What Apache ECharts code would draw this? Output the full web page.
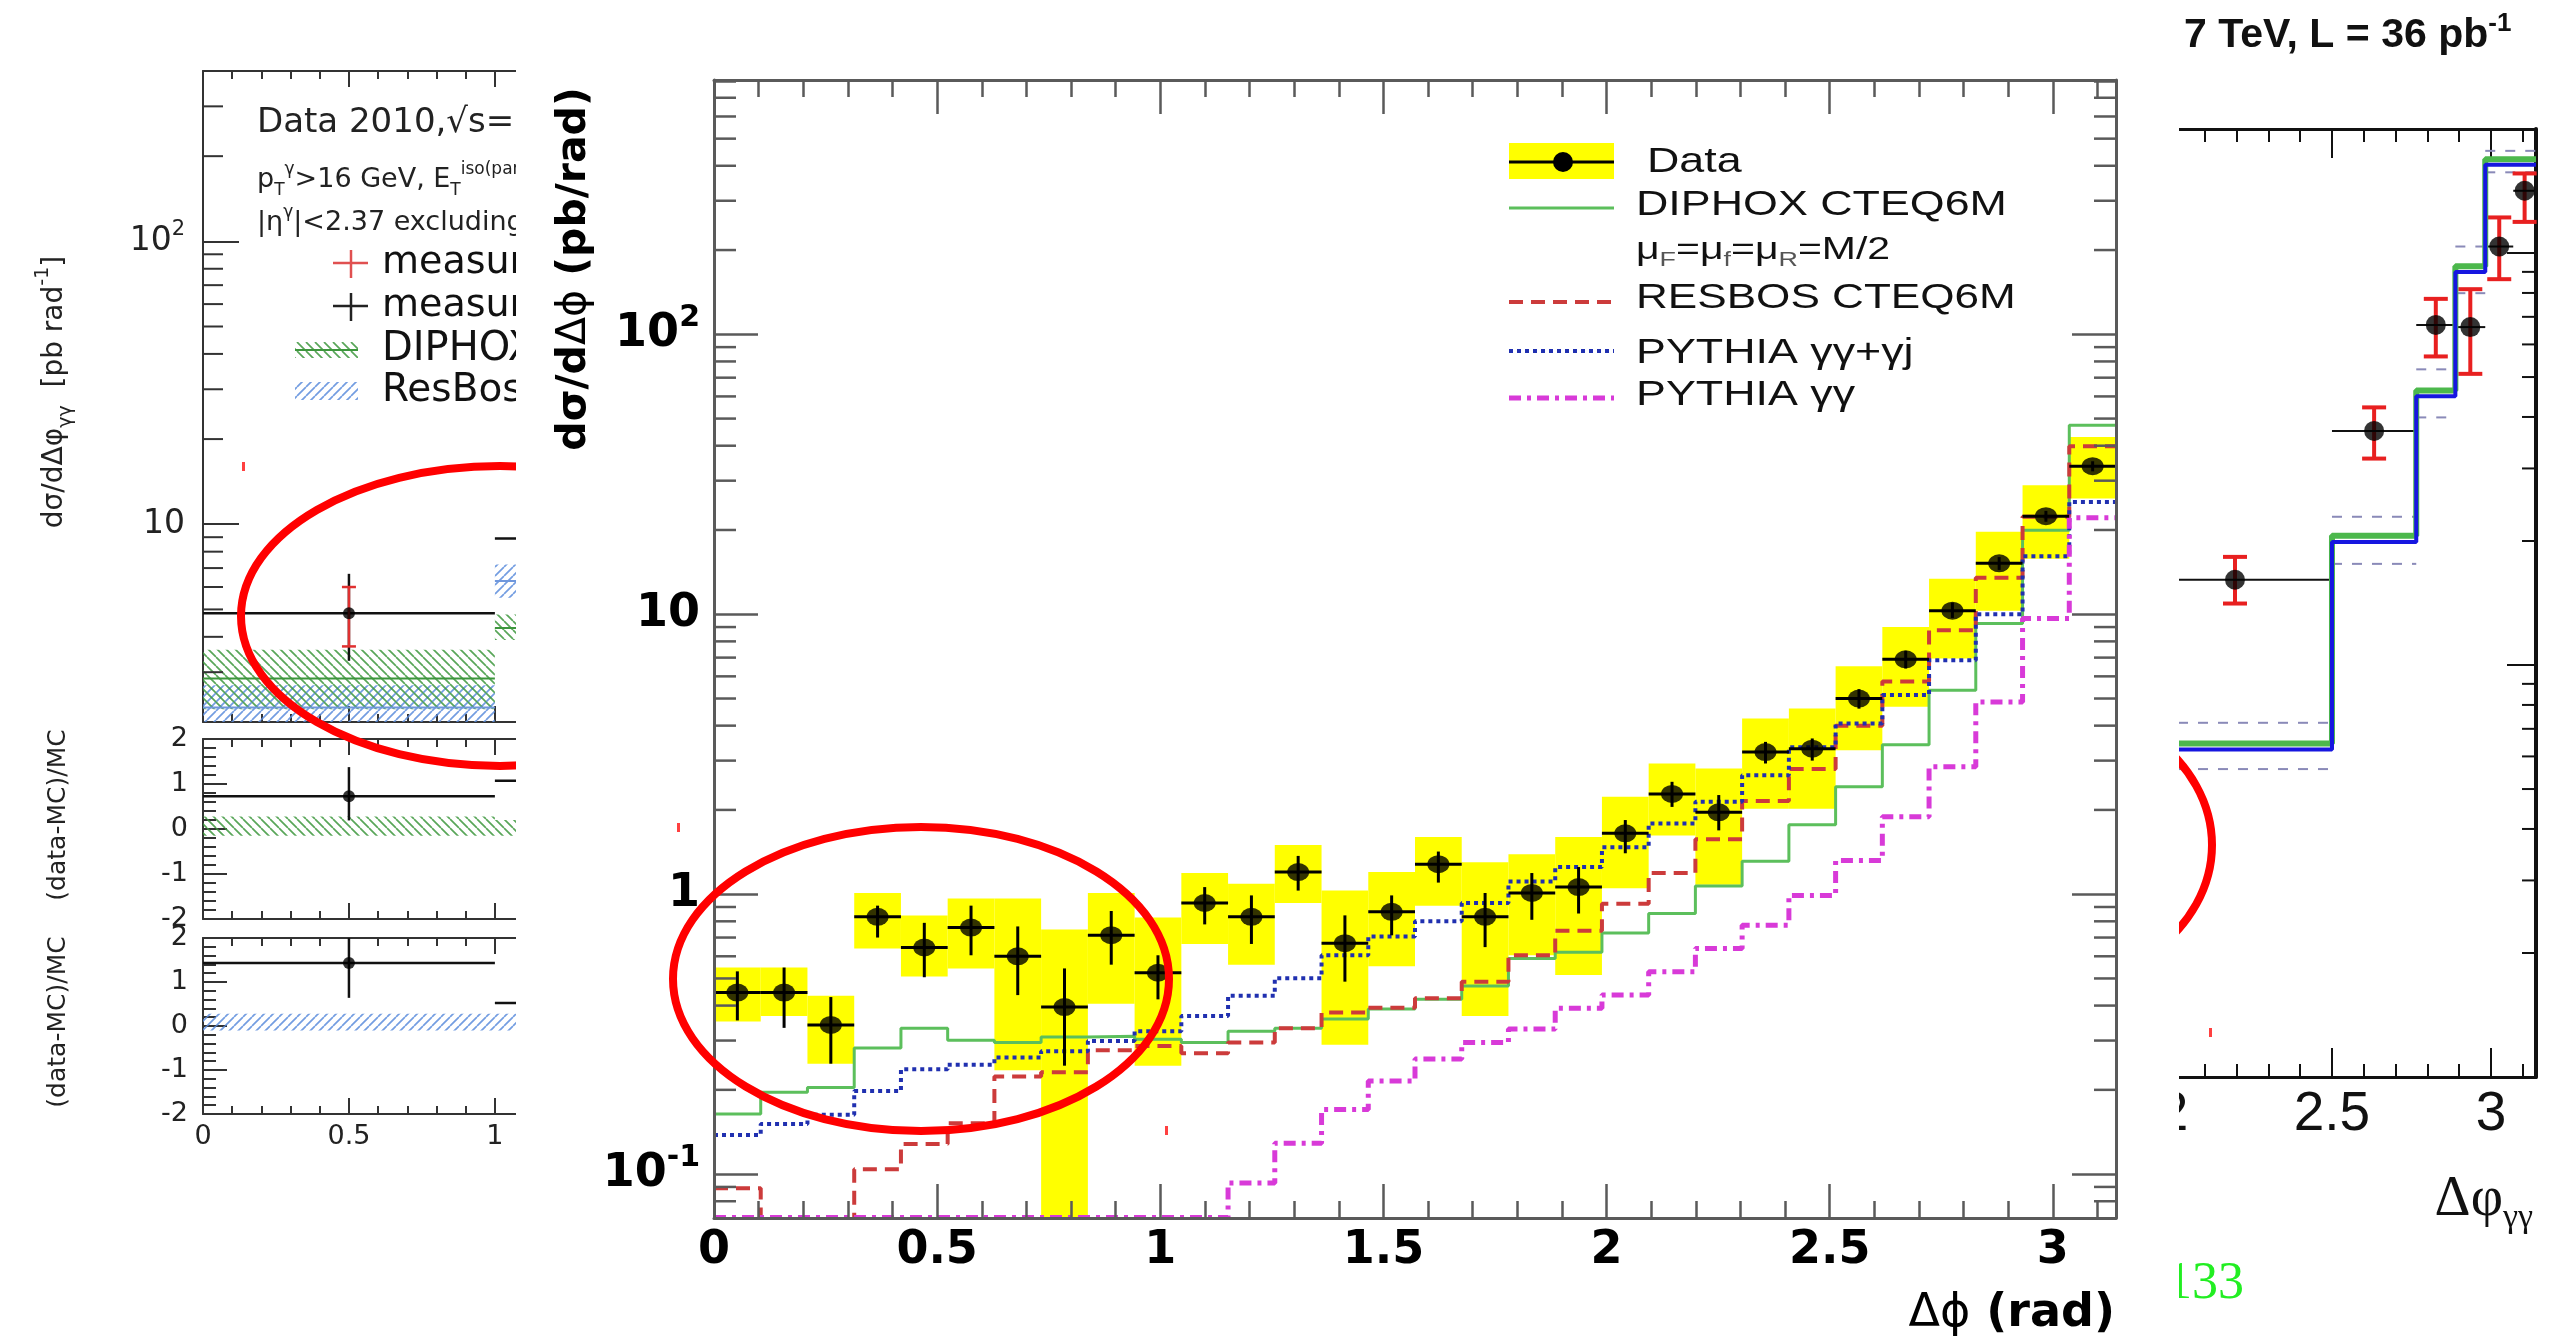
<!DOCTYPE html>
<html>
<head>
<meta charset="utf-8">
<script src="https://cdn.jsdelivr.net/npm/echarts@6.0.0/dist/echarts.min.js"></script>
<style>
html,body{margin:0;padding:0;background:#ffffff;}
#chart{width:2556px;height:1343px;}
</style>
</head>
<body>
<div id="chart"></div>
<script>
// ================= MAIN PANEL (30 bins of width pi/30) =================
const binEdges = [0, 0.1047, 0.2094, 0.3142, 0.4189, 0.5236, 0.6283, 0.7330, 0.8378, 0.9425, 1.0472, 1.1519, 1.2566, 1.3614, 1.4661, 1.5708, 1.6755, 1.7802, 1.8850, 1.9897, 2.0944, 2.1991, 2.3038, 2.4086, 2.5133, 2.6180, 2.7227, 2.8274, 2.9322, 3.0369, 3.1416];
const dataVal = [0.445, 0.445, 0.341, 0.83, 0.645, 0.76, 0.60, 0.395, 0.714, 0.524, 0.93, 0.83, 1.20, 0.668, 0.865, 1.28, 0.83, 1.01, 1.06, 1.65, 2.28, 1.96, 3.22, 3.31, 5.0, 6.9, 10.3, 15.2, 22.4, 33.8];
const statLo = [0.354, 0.333, 0.248, 0.70, 0.505, 0.605, 0.436, 0.244, 0.56, 0.421, 0.78, 0.664, 1.03, 0.487, 0.713, 1.10, 0.647, 0.81, 0.853, 1.40, 2.05, 1.69, 2.93, 3.0, 4.6, 6.4, 9.7, 14.4, 21.4, 32.4];
const statHi = [0.53, 0.547, 0.429, 0.91, 0.79, 0.91, 0.767, 0.543, 0.871, 0.605, 1.06, 0.99, 1.37, 0.84, 0.99, 1.42, 1.01, 1.19, 1.25, 1.84, 2.52, 2.26, 3.5, 3.6, 5.4, 7.4, 11.0, 16.0, 23.4, 35.2];
const sysLo = [0.351, 0.367, 0.248, 0.64, 0.508, 0.543, 0.235, 0.05, 0.406, 0.244, 0.664, 0.56, 0.93, 0.29, 0.553, 0.91, 0.367, 0.605, 0.514, 1.05, 1.62, 1.08, 2.02, 2.02, 3.27, 4.67, 6.95, 10.3, 15.8, 25.9];
const sysHi = [0.547, 0.547, 0.434, 1.01, 0.84, 0.965, 0.965, 0.748, 1.01, 0.825, 1.19, 1.09, 1.50, 1.03, 1.20, 1.60, 1.30, 1.39, 1.60, 2.23, 2.93, 2.81, 4.24, 4.61, 6.52, 9.01, 13.4, 19.7, 28.9, 43.0];
const diphox = [0.164, 0.196, 0.204, 0.282, 0.332, 0.301, 0.295, 0.309, 0.311, 0.303, 0.295, 0.324, 0.332, 0.358, 0.389, 0.421, 0.47, 0.589, 0.62, 0.727, 0.853, 1.07, 1.31, 1.77, 2.42, 3.42, 5.35, 9.26, 19.95, 47.3];
const resbos = [0.089, 0.05, 0.05, 0.104, 0.128, 0.152, 0.223, 0.231, 0.277, 0.287, 0.27, 0.295, 0.332, 0.378, 0.393, 0.425, 0.487, 0.605, 0.74, 0.925, 1.19, 1.57, 2.15, 2.8, 4.0, 5.75, 8.77, 13.5, 22.3, 39.8];
const pythiaGGGJ = [0.138, 0.151, 0.163, 0.198, 0.237, 0.246, 0.261, 0.275, 0.299, 0.324, 0.367, 0.434, 0.501, 0.605, 0.706, 0.80, 0.93, 1.11, 1.25, 1.47, 1.79, 2.14, 2.66, 3.35, 4.07, 5.15, 6.85, 10.0, 16.1, 25.2];
const pythiaGG = [0.07, 0.07, 0.07, 0.07, 0.07, 0.07, 0.07, 0.07, 0.07, 0.07, 0.07, 0.093, 0.129, 0.170, 0.215, 0.258, 0.295, 0.33, 0.391, 0.436, 0.528, 0.64, 0.775, 0.99, 1.32, 1.89, 2.85, 4.86, 9.66, 22.1];
const mainYRange = [0.0697, 810];
const mainMinorY = [0.08, 0.09, 0.2, 0.3, 0.4, 0.5, 0.6, 0.7, 0.8, 0.9, 2, 3, 4, 5, 6, 7, 8, 9, 20, 30, 40, 50, 60, 70, 80, 90, 200, 300, 400, 500, 600, 700, 800];
const mainLegend = ['Data', 'DIPHOX CTEQ6M', 'RESBOS CTEQ6M', 'PYTHIA γγ+γj', 'PYTHIA γγ'];

// ================= LEFT PANEL (ATLAS, partially visible) =================
const lEdges = [0, 1, 2];
const lData = [4.85, 8.9];
const lTotLo = [3.29, 7.4];
const lTotHi = [6.68, 10.6];
const lStatLo = [3.7, 7.9];
const lStatHi = [6.0, 9.9];
const lDiphox = [2.85, 4.3];
const lDiphoxLo = [2.22, 3.9];
const lDiphoxHi = [3.6, 4.8];
const lResbos = [2.25, 6.3];
const lResbosLo = [1.9, 5.5];
const lResbosHi = [2.7, 7.2];
const lYRange = [2, 400];
const lMinorY = [3, 4, 5, 6, 7, 8, 9, 20, 30, 40, 50, 60, 70, 80, 90, 200, 300];
const r1Data = [0.73, 1.07];
const r1Lo = [0.19, 0.7];
const r1Hi = [1.375, 1.45];
const r1BandLo = [-0.15, -0.15];
const r1BandHi = [0.28, 0.2];
const r2Data = [1.43, 0.52];
const r2Lo = [0.64, 0.2];
const r2Hi = [2.05, 0.85];
const r2BandLo = [-0.1, -0.1];
const r2BandHi = [0.28, 0.28];

// ================= RIGHT PANEL (ATLAS, partially visible) =================
const rpEdges = [1.89, 2.5, 2.765, 2.888, 2.982, 3.07, 3.1416];
const rpData = [16.1, 37.0, 66.9, 66.1, 103.7, 141.6];
const rpErrLo = [14.1, 31.7, 56.1, 50.9, 86.4, 119];
const rpErrHi = [18.3, 42.2, 77.4, 81.7, 122, 156];
const rpThEdges = [1.89, 2.5, 2.765, 2.888, 2.982, 3.1416];
const rpBlue = [6.24, 19.9, 44.9, 89.9, 163.7];
const rpGreen = [6.45, 20.6, 46.4, 92.9, 169];
const rpUp = [7.24, 22.9, 52.2, 103.7, 177];
const rpDn = [5.59, 17.6, 39.9, 79.9, 157];
const rpYRange = [1, 200];
const rpMinorY = [2, 3, 4, 5, 6, 7, 8, 9, 20, 30, 40, 50, 60, 70, 80, 90];

// ================= helpers =================
const PI = Math.PI;
function stepData(edges, vals) {
  const d = vals.map((v, i) => [edges[i], v]);
  d.push([edges[edges.length - 1], vals[vals.length - 1]]);
  return d;
}
function mids(edges) { return edges.slice(0, -1).map((e, i) => (e + edges[i + 1]) / 2); }
function hatch(color, dir) {
  const s = 9;
  const c = document.createElement('canvas');
  c.width = s; c.height = s;
  const g = c.getContext('2d');
  g.strokeStyle = color; g.lineWidth = 1.7;
  g.beginPath();
  for (let k = -1; k <= 1; k++) {
    if (dir === 'back') { g.moveTo(k * s, 0); g.lineTo(k * s + s, s); }
    else { g.moveTo(k * s, s); g.lineTo(k * s + s, 0); }
  }
  g.stroke();
  return { image: c, repeat: 'repeat' };
}
const greenHatch = hatch('rgba(60,150,60,0.85)', 'back');
const blueHatch = hatch('rgba(90,140,220,0.85)', 'fwd');

function xAx(o) {
  return {
    type: 'value', gridIndex: o.grid, position: o.pos, min: o.min, max: o.max, interval: o.interval,
    z: o.z || 0, silent: true,
    axisLine: { show: !!o.line, onZero: false, lineStyle: { color: o.color, width: o.lw || 2 } },
    axisTick: { show: true, inside: true, length: o.tick, lineStyle: { color: o.color, width: o.tw || 2 } },
    minorTick: o.minor ? { show: true, splitNumber: 5, length: o.minor, lineStyle: { color: o.color, width: o.tw || 2 } } : { show: false },
    axisLabel: o.label ? Object.assign({ show: true, showMaxLabel: false }, o.label) : { show: false },
    splitLine: { show: false }, minorSplitLine: { show: false }
  };
}
function yAx(o) {
  return {
    type: o.type, gridIndex: o.grid, position: o.pos, min: o.min, max: o.max, interval: o.interval, logBase: 10,
    z: o.z || 0, silent: true,
    axisLine: { show: o.line !== false, onZero: false, lineStyle: { color: o.color, width: o.lw || 2 } },
    axisTick: { show: true, inside: true, length: o.tick, lineStyle: { color: o.color, width: o.tw || 2 } },
    minorTick: o.minor ? { show: true, splitNumber: 5, length: o.minor, lineStyle: { color: o.color, width: o.tw || 2 } } : { show: false },
    axisLabel: o.label ? o.label : { show: false },
    splitLine: { show: false }, minorSplitLine: { show: false }
  };
}
function boxSeries(xi, yi, rows, fill, z) {
  return {
    type: 'custom', xAxisIndex: xi, yAxisIndex: yi, z: z, silent: true, data: rows,
    renderItem: function (params, api) {
      const cs = params.coordSys;
      const p1 = api.coord([api.value(0), api.value(3)]);
      const p2 = api.coord([api.value(1), api.value(2)]);
      const r = echarts.graphic.clipRectByRect(
        { x: p1[0], y: p1[1], width: p2[0] - p1[0], height: p2[1] - p1[1] },
        { x: cs.x, y: cs.y, width: cs.width, height: cs.height });
      if (!r) return null;
      return { type: 'rect', shape: r, style: { fill: fill } };
    }
  };
}
function hSegs(xi, yi, rows, o) {
  return {
    type: 'custom', xAxisIndex: xi, yAxisIndex: yi, z: o.z, silent: true, data: rows,
    renderItem: function (params, api) {
      const cs = params.coordSys;
      const p0 = api.coord([api.value(0), api.value(2)]);
      const p1 = api.coord([api.value(1), api.value(2)]);
      if (p0[1] < cs.y - 1 || p0[1] > cs.y + cs.height + 1) return null;
      return { type: 'line', shape: { x1: p0[0], y1: p0[1], x2: p1[0], y2: p1[1] },
        style: { stroke: o.color, lineWidth: o.lw, lineDash: o.dash || null } };
    }
  };
}
function errBars(xi, yi, rows, o) {
  return {
    type: 'custom', xAxisIndex: xi, yAxisIndex: yi, z: o.z, silent: true, data: rows,
    renderItem: function (params, api) {
      const cs = params.coordSys; const ch = [];
      const xc = api.value(0);
      const a = api.coord([xc, api.value(1)]), b = api.coord([xc, api.value(2)]);
      const yTop = Math.max(Math.min(a[1], b[1]), cs.y);
      const yBot = Math.min(Math.max(a[1], b[1]), cs.y + cs.height);
      if (yBot > yTop) ch.push({ type: 'line', shape: { x1: a[0], y1: yTop, x2: a[0], y2: yBot }, style: { stroke: o.color, lineWidth: o.lw } });
      if (o.cap) {
        [a[1], b[1]].forEach(function (y) {
          if (y >= cs.y && y <= cs.y + cs.height) ch.push({ type: 'line', shape: { x1: a[0] - o.cap, y1: y, x2: a[0] + o.cap, y2: y }, style: { stroke: o.color, lineWidth: o.lw } });
        });
      }
      if (o.horiz) {
        const h0 = api.coord([api.value(3), api.value(5)]), h1 = api.coord([api.value(4), api.value(5)]);
        if (h0[1] >= cs.y && h0[1] <= cs.y + cs.height) ch.push({ type: 'line', shape: { x1: h0[0], y1: h0[1], x2: h1[0], y2: h1[1] }, style: { stroke: o.hcolor || o.color, lineWidth: o.hlw || o.lw } });
      }
      return { type: 'group', children: ch };
    }
  };
}
function yMinorTicks(xi, yi, vals, len, color, lw, sides, z) {
  return {
    type: 'custom', xAxisIndex: xi, yAxisIndex: yi, z: z, silent: true,
    data: vals.map(v => [0, v]),
    renderItem: function (params, api) {
      const cs = params.coordSys;
      const y = api.coord([0, api.value(1)])[1];
      const ch = [];
      if (sides.indexOf('l') >= 0) ch.push({ type: 'line', shape: { x1: cs.x, y1: y, x2: cs.x + len, y2: y }, style: { stroke: color, lineWidth: lw } });
      if (sides.indexOf('r') >= 0) ch.push({ type: 'line', shape: { x1: cs.x + cs.width - len, y1: y, x2: cs.x + cs.width, y2: y }, style: { stroke: color, lineWidth: lw } });
      return { type: 'group', children: ch };
    }
  };
}
function stepLine(xi, yi, edges, vals, ls, z) {
  return { type: 'line', xAxisIndex: xi, yAxisIndex: yi, z: z, silent: true, step: 'end', showSymbol: false, symbol: 'none',
    clip: true, data: stepData(edges, vals), lineStyle: ls };
}
function powLabel(v) {
  const e = Math.round(Math.log10(v));
  if (e === 0) return '{b|1}';
  if (e === 1) return '{b|10}';
  return '{b|10}{s|' + e + '}';
}

// ================= axes =================
const MG = '#5a5a5a';
const xAxes = [
  // 0-3 main
  xAx({ grid: 0, pos: 'bottom', min: 0, max: PI, interval: 0.5, line: true, color: MG, lw: 3, tick: 34, tw: 2.5, z: 10,
    label: { fontFamily: 'DejaVu Sans', fontWeight: 'bold', fontSize: 46, color: '#000', margin: 10 } }),
  xAx({ grid: 0, pos: 'bottom', min: 0, max: PI, interval: 0.1, line: false, color: MG, tick: 17, tw: 2.5, z: 10 }),
  xAx({ grid: 0, pos: 'top', min: 0, max: PI, interval: 0.5, line: true, color: MG, lw: 3, tick: 34, tw: 2.5, z: 10 }),
  xAx({ grid: 0, pos: 'top', min: 0, max: PI, interval: 0.1, line: false, color: MG, tick: 17, tw: 2.5, z: 10 }),
  // 4-5 left top panel
  xAx({ grid: 1, pos: 'bottom', min: 0, max: PI, interval: 0.5, line: true, color: '#333', lw: 2, tick: 16, minor: 8 }),
  xAx({ grid: 1, pos: 'top', min: 0, max: PI, interval: 0.5, line: true, color: '#333', lw: 2, tick: 16, minor: 8 }),
  // 6-7 left ratio 1
  xAx({ grid: 2, pos: 'bottom', min: 0, max: PI, interval: 0.5, line: true, color: '#333', lw: 2, tick: 16, minor: 8 }),
  xAx({ grid: 2, pos: 'top', min: 0, max: PI, interval: 0.5, line: true, color: '#333', lw: 2, tick: 16, minor: 8 }),
  // 8-9 left ratio 2
  xAx({ grid: 3, pos: 'bottom', min: 0, max: PI, interval: 0.5, line: true, color: '#333', lw: 2, tick: 16, minor: 8,
    label: { fontFamily: 'DejaVu Sans', fontSize: 27, color: '#222', margin: 9 } }),
  xAx({ grid: 3, pos: 'top', min: 0, max: PI, interval: 0.5, line: true, color: '#333', lw: 2, tick: 16, minor: 8 }),
  // 10-13 right panel
  xAx({ grid: 4, pos: 'bottom', min: 0, max: PI, interval: 0.5, line: true, color: '#111', lw: 3, tick: 29, tw: 2,
    label: { fontFamily: 'Liberation Sans', fontSize: 55, color: '#111', margin: 10 } }),
  xAx({ grid: 4, pos: 'bottom', min: 0, max: PI, interval: 0.1, line: false, color: '#111', tick: 13, tw: 2 }),
  xAx({ grid: 4, pos: 'top', min: 0, max: PI, interval: 0.5, line: true, color: '#111', lw: 3, tick: 29, tw: 2 }),
  xAx({ grid: 4, pos: 'top', min: 0, max: PI, interval: 0.1, line: false, color: '#111', tick: 13, tw: 2 })
];
const mainRich = {
  b: { fontFamily: 'DejaVu Sans', fontWeight: 'bold', fontSize: 46, color: '#000', lineHeight: 62 },
  s: { fontFamily: 'DejaVu Sans', fontWeight: 'bold', fontSize: 30, color: '#000', verticalAlign: 'top', lineHeight: 30 }
};
const leftRich = {
  b: { fontFamily: 'DejaVu Sans', fontSize: 33, color: '#222', lineHeight: 44 },
  s: { fontFamily: 'DejaVu Sans', fontSize: 21, color: '#222', verticalAlign: 'top', lineHeight: 21 }
};
const yAxes = [
  yAx({ type: 'log', grid: 0, pos: 'left', min: mainYRange[0], max: mainYRange[1], color: MG, lw: 3, tick: 44, tw: 2.5, z: 10,
    label: { show: true, showMinLabel: false, showMaxLabel: false, margin: 14, formatter: v => powLabel(v), rich: mainRich } }),
  yAx({ type: 'log', grid: 0, pos: 'right', min: mainYRange[0], max: mainYRange[1], color: MG, lw: 3, tick: 44, tw: 2.5, z: 10 }),
  yAx({ type: 'log', grid: 1, pos: 'left', min: lYRange[0], max: lYRange[1], color: '#333', lw: 2, tick: 36,
    label: { show: true, showMinLabel: false, showMaxLabel: false, margin: 18, formatter: v => powLabel(v), rich: leftRich } }),
  yAx({ type: 'value', grid: 2, pos: 'left', min: -2, max: 2, interval: 1, color: '#333', lw: 2, tick: 24, minor: 13,
    label: { show: true, margin: 15, fontFamily: 'DejaVu Sans', fontSize: 27, color: '#222' } }),
  yAx({ type: 'value', grid: 3, pos: 'left', min: -2, max: 2, interval: 1, color: '#333', lw: 2, tick: 24, minor: 13,
    label: { show: true, margin: 15, fontFamily: 'DejaVu Sans', fontSize: 27, color: '#222' } }),
  yAx({ type: 'log', grid: 4, pos: 'right', min: rpYRange[0], max: rpYRange[1], color: '#111', lw: 4, tick: 29, tw: 2 })
];

// ================= series =================
const series = [];
// main
const mainMid = mids(binEdges);
series.push(boxSeries(0, 0, binEdges.slice(0, -1).map((e, i) => [e, binEdges[i + 1], sysLo[i], sysHi[i]]), '#ffff00', 6));
series.push(stepLine(0, 0, binEdges, diphox, { color: '#5cbf5c', width: 3, type: 'solid' }, 7));
series.push(stepLine(0, 0, binEdges, resbos, { color: '#cc3b3b', width: 4, type: [14, 8] }, 7));
series.push(stepLine(0, 0, binEdges, pythiaGGGJ, { color: '#2030b0', width: 4, type: [4, 4] }, 7));
series.push(stepLine(0, 0, binEdges, pythiaGG, { color: '#d83ad8', width: 5, type: [12, 6, 4, 6] }, 7));
series.push(errBars(0, 0, binEdges.slice(0, -1).map((e, i) => [mainMid[i], statLo[i], statHi[i], e, binEdges[i + 1], dataVal[i]]),
  { color: '#000', lw: 3, horiz: true, z: 8 }));
series.push({ type: 'scatter', xAxisIndex: 0, yAxisIndex: 0, z: 9, silent: true, symbol: 'circle', symbolSize: [22, 18],
  itemStyle: { color: '#000' }, data: mainMid.map((c, i) => [c, dataVal[i]]) });
series.push(yMinorTicks(0, 0, mainMinorY, 22, MG, 2.5, 'lr', 10));

// left top panel
const lMid = mids(lEdges);
series.push(boxSeries(4, 2, lMid.map((c, i) => [lEdges[i], lEdges[i + 1], lResbosLo[i], lResbosHi[i]]), blueHatch, 2));
series.push(boxSeries(4, 2, lMid.map((c, i) => [lEdges[i], lEdges[i + 1], lDiphoxLo[i], lDiphoxHi[i]]), greenHatch, 2));
series.push(hSegs(4, 2, lMid.map((c, i) => [lEdges[i], lEdges[i + 1], lResbos[i]]), { color: '#6f97dc', lw: 2, z: 2 }));
series.push(hSegs(4, 2, lMid.map((c, i) => [lEdges[i], lEdges[i + 1], lDiphox[i]]), { color: '#3c963c', lw: 2, z: 2 }));
series.push(errBars(4, 2, lMid.map((c, i) => [c, lTotLo[i], lTotHi[i], lEdges[i], lEdges[i + 1], lData[i]]), { color: '#111', lw: 2.5, horiz: true, z: 2 }));
series.push(errBars(4, 2, lMid.map((c, i) => [c, lStatLo[i], lStatHi[i], 0, 0, 0]), { color: '#e03030', lw: 2.5, cap: 7, z: 2 }));
series.push({ type: 'scatter', xAxisIndex: 4, yAxisIndex: 2, z: 2, silent: true, symbol: 'circle', symbolSize: 12,
  itemStyle: { color: '#000' }, data: lMid.map((c, i) => [c, lData[i]]) });
series.push(yMinorTicks(4, 2, lMinorY, 20, '#333', 2, 'l', 2));
// left ratio 1 (DIPHOX)
series.push(boxSeries(6, 3, lMid.map((c, i) => [lEdges[i], lEdges[i + 1], r1BandLo[i], r1BandHi[i]]), greenHatch, 2));
series.push(errBars(6, 3, lMid.map((c, i) => [c, r1Lo[i], r1Hi[i], lEdges[i], lEdges[i + 1], r1Data[i]]), { color: '#111', lw: 2.5, horiz: true, z: 2 }));
series.push({ type: 'scatter', xAxisIndex: 6, yAxisIndex: 3, z: 2, silent: true, symbol: 'circle', symbolSize: 12,
  itemStyle: { color: '#000' }, data: lMid.map((c, i) => [c, r1Data[i]]) });
// left ratio 2 (ResBos)
series.push(boxSeries(8, 4, lMid.map((c, i) => [lEdges[i], lEdges[i + 1], r2BandLo[i], r2BandHi[i]]), blueHatch, 2));
series.push(errBars(8, 4, lMid.map((c, i) => [c, r2Lo[i], r2Hi[i], lEdges[i], lEdges[i + 1], r2Data[i]]), { color: '#111', lw: 2.5, horiz: true, z: 2 }));
series.push({ type: 'scatter', xAxisIndex: 8, yAxisIndex: 4, z: 2, silent: true, symbol: 'circle', symbolSize: 12,
  itemStyle: { color: '#000' }, data: lMid.map((c, i) => [c, r2Data[i]]) });

// right panel
const rpMid = mids(rpEdges);
series.push(hSegs(10, 5, rpBlue.map((v, i) => [rpThEdges[i], rpThEdges[i + 1], rpUp[i]]), { color: '#8a8ab8', lw: 2, dash: [10, 10], z: 2 }));
series.push(hSegs(10, 5, rpBlue.map((v, i) => [rpThEdges[i], rpThEdges[i + 1], rpDn[i]]), { color: '#8a8ab8', lw: 2, dash: [10, 10], z: 2 }));
series.push(stepLine(10, 5, rpThEdges, rpGreen, { color: '#4cb84c', width: 6, type: 'solid' }, 2));
series.push(stepLine(10, 5, rpThEdges, rpBlue, { color: '#1616e0', width: 4, type: 'solid' }, 2));
series.push(errBars(10, 5, rpMid.map((c, i) => [c, rpErrLo[i], rpErrHi[i], rpEdges[i], rpEdges[i + 1], rpData[i]]),
  { color: '#e82020', lw: 4, cap: 12, horiz: true, hcolor: '#111', hlw: 2, z: 2 }));
series.push({ type: 'scatter', xAxisIndex: 10, yAxisIndex: 5, z: 2, silent: true, symbol: 'circle', symbolSize: 20,
  itemStyle: { color: '#000' }, data: rpMid.map((c, i) => [c, rpData[i]]) });
series.push(yMinorTicks(10, 5, rpMinorY, 14, '#111', 2, 'r', 2));

// ================= graphics (texts, legend, annotations) =================
function gText(x, y, text, style, extra) {
  return Object.assign({ type: 'text', x: x, y: y, silent: true, z: 12,
    style: Object.assign({ text: text, align: 'left', verticalAlign: 'middle', fill: '#000' }, style) }, extra || {});
}
function gLine(x1, y1, x2, y2, stroke, lw, dash, z) {
  return { type: 'line', silent: true, z: z, shape: { x1: x1, y1: y1, x2: x2, y2: y2 }, style: { stroke: stroke, lineWidth: lw, lineDash: dash || null } };
}
const LS = 'Liberation Sans';
const DV = 'DejaVu Sans';
const legStyle = { fontFamily: LS, fontSize: 35, fill: '#111' };
const graphics = [
  // ---- side-panel decorations (under the cover) ----
  gText(257, 123, 'Data 2010,√s=7 TeV', { fontFamily: DV, fontSize: 34, fill: '#222' }, { z: 3 }),
  gText(257, 180, 'p{d|T}{u|γ}>16 GeV, E{d|T}{u|iso(parton)}<4 GeV', { fontFamily: DV, fontSize: 27, fill: '#222', lineHeight: 38,
    rich: { d: { fontFamily: DV, fontSize: 17, fill: '#222', verticalAlign: 'bottom', lineHeight: 17 },
            u: { fontFamily: DV, fontSize: 17, fill: '#222', verticalAlign: 'top', lineHeight: 17 } } }, { z: 3 }),
  gText(257, 223, '|η{u|γ}|<2.37 excluding 1.37<|η{u|γ}|<1.52', { fontFamily: DV, fontSize: 27, fill: '#222', lineHeight: 38,
    rich: { u: { fontFamily: DV, fontSize: 17, fill: '#222', verticalAlign: 'top', lineHeight: 17 } } }, { z: 3 }),
  gLine(333, 263, 368, 263, '#e05050', 2.5, null, 3), gLine(351, 250, 351, 278, '#e05050', 2.5, null, 3),
  gText(382, 263, 'measured (stat.)', { fontFamily: DV, fontSize: 38, fill: '#111' }, { z: 3 }),
  gLine(333, 306, 368, 306, '#222', 2.5, null, 3), gLine(351, 293, 351, 321, '#222', 2.5, null, 3),
  gText(382, 306, 'measured (stat.+syst.)', { fontFamily: DV, fontSize: 38, fill: '#111' }, { z: 3 }),
  { type: 'rect', silent: true, z: 3, shape: { x: 295, y: 342, width: 63, height: 16 }, style: { fill: greenHatch } },
  gLine(295, 350, 358, 350, '#3c963c', 2, null, 3),
  gText(382, 350, 'DIPHOX', { fontFamily: DV, fontSize: 40, fill: '#111' }, { z: 3 }),
  { type: 'rect', silent: true, z: 3, shape: { x: 295, y: 382, width: 63, height: 18 }, style: { fill: blueHatch } },
  gText(382, 391, 'ResBos', { fontFamily: DV, fontSize: 39, fill: '#111' }, { z: 3 }),
  gText(55, 392, '{a|dσ/dΔφ}{d|γγ}{a|  [pb rad}{u|-1}{a|]}', { align: 'center', fill: '#222',
    rich: { a: { fontFamily: DV, fontSize: 28, fill: '#222', lineHeight: 42 },
            d: { fontFamily: DV, fontSize: 19, fill: '#222', verticalAlign: 'bottom', lineHeight: 19 },
            u: { fontFamily: DV, fontSize: 19, fill: '#222', verticalAlign: 'top', lineHeight: 19 } } }, { z: 3, rotation: PI / 2 }),
  gText(58, 815, '(data-MC)/MC', { align: 'center', fontFamily: DV, fontSize: 25, fill: '#222' }, { z: 3, rotation: PI / 2 }),
  gText(58, 1022, '(data-MC)/MC', { align: 'center', fontFamily: DV, fontSize: 25, fill: '#222' }, { z: 3, rotation: PI / 2 }),
  { type: 'ellipse', silent: true, z: 3, shape: { cx: 500, cy: 616, rx: 259, ry: 150 }, style: { fill: 'rgba(0,0,0,0)', stroke: '#ff0000', lineWidth: 8 } },
  { type: 'ellipse', silent: true, z: 3, shape: { cx: 2012, cy: 845, rx: 200, ry: 152 }, style: { fill: 'rgba(0,0,0,0)', stroke: '#ff0000', lineWidth: 8 } },
  { type: 'rect', silent: true, z: 3, shape: { x: 242, y: 462, width: 3, height: 9 }, style: { fill: '#ff4040' } },
  { type: 'rect', silent: true, z: 3, shape: { x: 2209, y: 1028, width: 3, height: 9 }, style: { fill: '#ff4040' } },
  gText(2184, 36, '7 TeV, L = 36 pb{u|-1}', { fontFamily: LS, fontWeight: 'bold', fontSize: 41, fill: '#111', lineHeight: 50,
    rich: { u: { fontFamily: LS, fontWeight: 'bold', fontSize: 26, fill: '#111', verticalAlign: 'top', lineHeight: 26 } } }, { z: 3 }),
  gText(2533, 1200, '{a|Δφ}{d|γγ}', { align: 'right', fill: '#111',
    rich: { a: { fontFamily: 'Liberation Serif', fontSize: 56, fill: '#111', lineHeight: 70 },
            d: { fontFamily: 'Liberation Serif', fontSize: 34, fill: '#111', verticalAlign: 'bottom', lineHeight: 34 } } }, { z: 3 }),
  gText(2166, 1284, '133', { fontFamily: 'Liberation Serif', fontSize: 52, fill: '#22ee22' }, { z: 3 }),

  // ---- cover: the main figure pasted over the side panels ----
  { type: 'rect', silent: true, z: 4, shape: { x: 516, y: 0, width: 1663, height: 1343 }, style: { fill: '#ffffff' } },

  // ---- main panel texts ----
  gText(574, 269, '{b|dσ/d}{n|Δϕ}{b| (pb/rad)}', { align: 'center',
    rich: { b: { fontFamily: DV, fontWeight: 'bold', fontSize: 41, fill: '#000' },
            n: { fontFamily: DV, fontSize: 41, fill: '#000' } } }, { rotation: PI / 2 }),
  gText(2115, 1314, '{n|Δϕ}{b| (rad)}', { align: 'right',
    rich: { n: { fontFamily: DV, fontSize: 46, fill: '#000' },
            b: { fontFamily: DV, fontWeight: 'bold', fontSize: 46, fill: '#000' } } }),
  // legend
  { type: 'rect', silent: true, z: 12, shape: { x: 1509, y: 143, width: 105, height: 36 }, style: { fill: '#ffff00' } },
  gLine(1509, 162, 1614, 162, '#000', 3, null, 12),
  { type: 'circle', silent: true, z: 12, shape: { cx: 1563, cy: 162, r: 10 }, style: { fill: '#000' } },
  gText(1647, 162, mainLegend[0], legStyle, { scaleX: 1.28 }),
  gLine(1509, 208, 1614, 208, '#5cbf5c', 3, null, 12),
  gText(1636, 205, mainLegend[1], legStyle, { scaleX: 1.28 }),
  gText(1636, 250, '{m|μ}{s|F}{m|=μ}{s|f}{m|=μ}{s|R}{m|=M/2}', { fill: '#111',
    rich: { m: { fontFamily: LS, fontSize: 32, fill: '#111', lineHeight: 42 },
            s: { fontFamily: LS, fontSize: 21, fill: '#555', verticalAlign: 'bottom', lineHeight: 21 } } }, { scaleX: 1.28 }),
  gLine(1509, 302, 1614, 302, '#cc3b3b', 4, [14, 8], 12),
  gText(1636, 298, mainLegend[2], legStyle, { scaleX: 1.26 }),
  gLine(1509, 351, 1614, 351, '#2030b0', 4, [4, 4], 12),
  gText(1636, 353, mainLegend[3], legStyle, { scaleX: 1.28 }),
  gLine(1509, 398, 1614, 398, '#d83ad8', 5, [12, 6, 4, 6], 12),
  gText(1636, 395, mainLegend[4], legStyle, { scaleX: 1.28 }),
  // annotation ellipse and stray marks
  { type: 'ellipse', silent: true, z: 13, shape: { cx: 921, cy: 979, rx: 248, ry: 152 }, style: { fill: 'rgba(0,0,0,0)', stroke: '#ff0000', lineWidth: 8 } },
  { type: 'rect', silent: true, z: 13, shape: { x: 677, y: 823, width: 3, height: 9 }, style: { fill: '#ff4040' } },
  { type: 'rect', silent: true, z: 13, shape: { x: 1165, y: 1126, width: 3, height: 9 }, style: { fill: '#ff4040' } }
];

const option = {
  animation: false,
  backgroundColor: '#ffffff',
  grid: [
    { left: 714, top: 80, width: 1402, height: 1138, containLabel: false, outerBoundsMode: 'none' },
    { left: 203, top: 71, width: 917, height: 651, containLabel: false, outerBoundsMode: 'none' },
    { left: 203, top: 739, width: 917, height: 180, containLabel: false, outerBoundsMode: 'none' },
    { left: 203, top: 938, width: 917, height: 176, containLabel: false, outerBoundsMode: 'none' },
    { left: 1537, top: 129, width: 999, height: 948, containLabel: false, outerBoundsMode: 'none' }
  ],
  xAxis: xAxes,
  yAxis: yAxes,
  series: series,
  graphic: { elements: graphics }
};
const chart = echarts.init(document.getElementById('chart'), null, { renderer: 'canvas' });
chart.setOption(option);
</script>
</body>
</html>
